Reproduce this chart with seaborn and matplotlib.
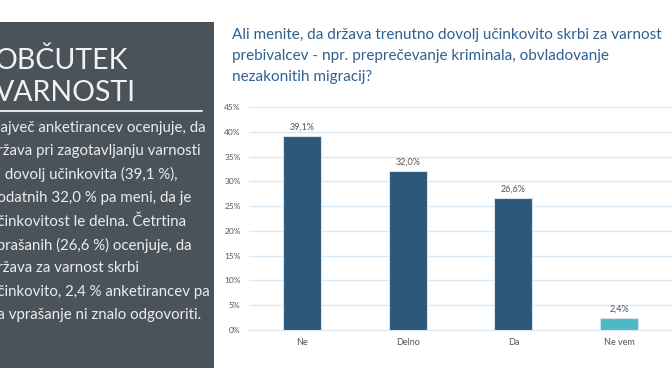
import matplotlib
matplotlib.use("Agg")
import matplotlib.pyplot as plt
from matplotlib.patches import Rectangle
import seaborn as sns

categories = ["Ne", "Delno", "Da", "Ne vem"]
values = [39.1, 32.0, 26.6, 2.4]
value_labels = ["39,1%", "32,0%", "26,6%", "2,4%"]
bar_colors = ["#2d5879", "#2d5879", "#2d5879", "#4fb8c6"]
y_ticks = [0, 5, 10, 15, 20, 25, 30, 35, 40, 45]

title = ["Ali menite, da država trenutno dovolj učinkovito skrbi za varnost",
         "prebivalcev - npr. preprečevanje kriminala, obvladovanje",
         "nezakonitih migracij?"]
heading = ["OBČUTEK", "VARNOSTI"]
body = [
    "Največ anketirancev ocenjuje, da",
    "država pri zagotavljanju varnosti",
    "ni dovolj učinkovita (39,1 %),",
    "dodatnih 32,0 % pa meni, da je",
    "učinkovitost le delna. Četrtina",
    "vprašanih (26,6 %) ocenjuje, da",
    "država za varnost skrbi",
    "učinkovito, 2,4 % anketirancev pa",
    "na vprašanje ni znalo odgovoriti.",
]

sns.set_style("white")
plt.rcParams["font.family"] = ["Lato", "DejaVu Sans"]

W, H = 672, 372
fig = plt.figure(figsize=(W / 100, H / 100), dpi=100)
fig.patch.set_facecolor("white")

# dark side panel (text runs off the left edge, as in the source slide)
fig.patches.append(Rectangle((0, 4 / H), 214 / W, 346 / H, transform=fig.transFigure,
                             facecolor="#4b535a", edgecolor="none", zorder=0))
for i, word in enumerate(heading):
    fig.text(-5 / W, 1 - (61 + 32 * i) / H, word, color="#f2f2f2", fontsize=20.5,
             va="center", ha="left")
fig.add_artist(plt.Line2D([0, 202 / W], [1 - 111 / H, 1 - 111 / H],
                          transform=fig.transFigure, color="#e0e0e0", lw=1.5))
for i, line in enumerate(body):
    fig.text(-11 / W, 1 - (128 + 23.4 * i) / H, line, color="#ececec", fontsize=10.8,
             va="center", ha="left")

for i, line in enumerate(title):
    fig.text(232 / W, 1 - (35 + 21 * i) / H, line, color="#2e6190", fontsize=11,
             va="center", ha="left")

ax = fig.add_axes([249 / W, 1 - 330 / H, 423 / W, 223 / H])
sns.barplot(x=categories, y=values, hue=categories, palette=bar_colors, legend=False,
            width=0.36, saturation=1, edgecolor="#d5e2ee", linewidth=0.8, ax=ax, zorder=3)
ax.set_ylim(0, 45)
ax.set_xlim(-0.5, 3.5)
ax.set_yticks(y_ticks)
ax.set_yticklabels([f"{t}%" for t in y_ticks])
ax.grid(axis="y", color="#d8eaf7", lw=1, zorder=0)
ax.set_axisbelow(True)
for s in ["top", "right", "left"]:
    ax.spines[s].set_visible(False)
ax.spines["bottom"].set_color("#d8eaf7")
ax.tick_params(axis="y", length=0, labelsize=6, labelcolor="#555555", pad=6)
ax.tick_params(axis="x", length=0, labelsize=6.5, labelcolor="#555555", pad=6)
ax.set_xticks([0.5, 1.5, 2.5], minor=True)
ax.tick_params(axis="x", which="minor", length=4, color="#d8eaf7")
ax.set_xlabel("")
ax.set_ylabel("")
for i, (v, lab) in enumerate(zip(values, value_labels)):
    ax.text(i, v + 0.9, lab, ha="center", va="bottom", fontsize=6.5, color="#555555")

fig.savefig("out.png", dpi=100)
